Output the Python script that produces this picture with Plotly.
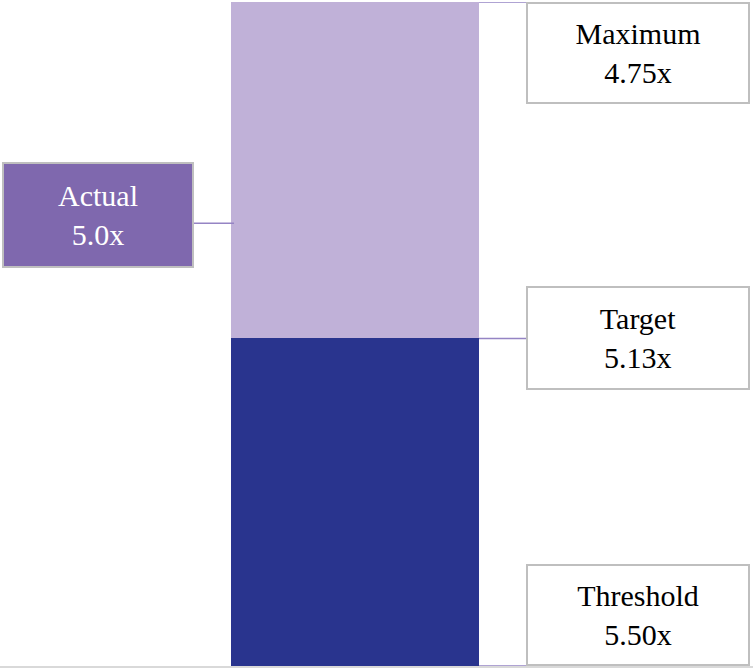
import plotly.graph_objects as go

# Data
levels = ["Threshold", "Target", "Maximum"]
level_values = [5.50, 5.13, 4.75]
actual_label = "Actual"
actual_value = 5.0

threshold, target, maximum = level_values
seg_names = ["Threshold to Target", "Target to Maximum"]
seg_values = [round(threshold - target, 2), round(target - maximum, 2)]
seg_colors = ["#29348E", "#C0B1D8"]

W, H = 753, 670
bar_left_px, bar_right_px = 231, 479
bar_center_px = (bar_left_px + bar_right_px) / 2
unit = bar_right_px - bar_left_px

fig = go.Figure()
for name, val, col in zip(seg_names, seg_values, seg_colors):
    fig.add_trace(go.Bar(x=[0], y=[val], width=1, name=name,
                         marker=dict(color=col, line=dict(width=0)),
                         showlegend=False, hoverinfo="skip"))

total = sum(seg_values)
FONT = "Liberation Serif"
line_col = "#9584C4"
box_border = "#BFBFBF"

pos = {lvl: threshold - v for lvl, v in zip(levels, level_values)}
anchors = {"Threshold": "bottom", "Target": "middle", "Maximum": "top"}
heights = {"Threshold": 98, "Target": 100, "Maximum": 98}

bar_right_paper = bar_right_px / W
box_left_paper = 526 / W

shapes = []
annotations = []
for lvl, v in zip(levels, level_values):
    y = pos[lvl]
    shapes.append(dict(type="line", xref="paper", yref="y",
                       x0=bar_right_paper, x1=box_left_paper, y0=y, y1=y,
                       line=dict(color=line_col, width=1.5)))
    annotations.append(dict(xref="paper", yref="y", x=box_left_paper, y=y,
                            xanchor="left", yanchor=anchors[lvl],
                            text=f"{lvl}<br>{v:.2f}x", showarrow=False,
                            width=220, height=heights[lvl], align="center", valign="middle",
                            bgcolor="white", bordercolor=box_border, borderwidth=2,
                            borderpad=0,
                            font=dict(family=FONT, size=30, color="black")))

ya = threshold - actual_value
shapes.append(dict(type="line", xref="paper", yref="y",
                   x0=194 / W, x1=bar_left_px / W + 0.004, y0=ya, y1=ya,
                   line=dict(color=line_col, width=1.5)))
annotations.append(dict(xref="paper", yref="y", x=2 / W, y=ya,
                        xanchor="left", yanchor="middle", yshift=8,
                        text=f"{actual_label}<br>{actual_value:.1f}x", showarrow=False,
                        width=188, height=102, align="center", valign="middle",
                        bgcolor="#7F68AE", bordercolor=box_border, borderwidth=2,
                        borderpad=0,
                        font=dict(family=FONT, size=30, color="white")))

fig.update_layout(
    barmode="stack",
    width=W, height=H,
    margin=dict(l=0, r=0, t=2, b=4),
    paper_bgcolor="white", plot_bgcolor="white",
    font=dict(family=FONT),
    xaxis=dict(range=[-bar_center_px / unit, (W - bar_center_px) / unit],
               showticklabels=False, showgrid=False, zeroline=False,
               showline=True, linecolor="#D9D9D9", linewidth=2, fixedrange=True),
    yaxis=dict(range=[0, total], showticklabels=False, showgrid=False,
               zeroline=False, showline=False, fixedrange=True),
    shapes=shapes, annotations=annotations,
    bargap=0,
)

fig.write_html("out.html", config={"displayModeBar": False},
               post_script="document.body.style.margin='0';document.body.style.padding='0';")
